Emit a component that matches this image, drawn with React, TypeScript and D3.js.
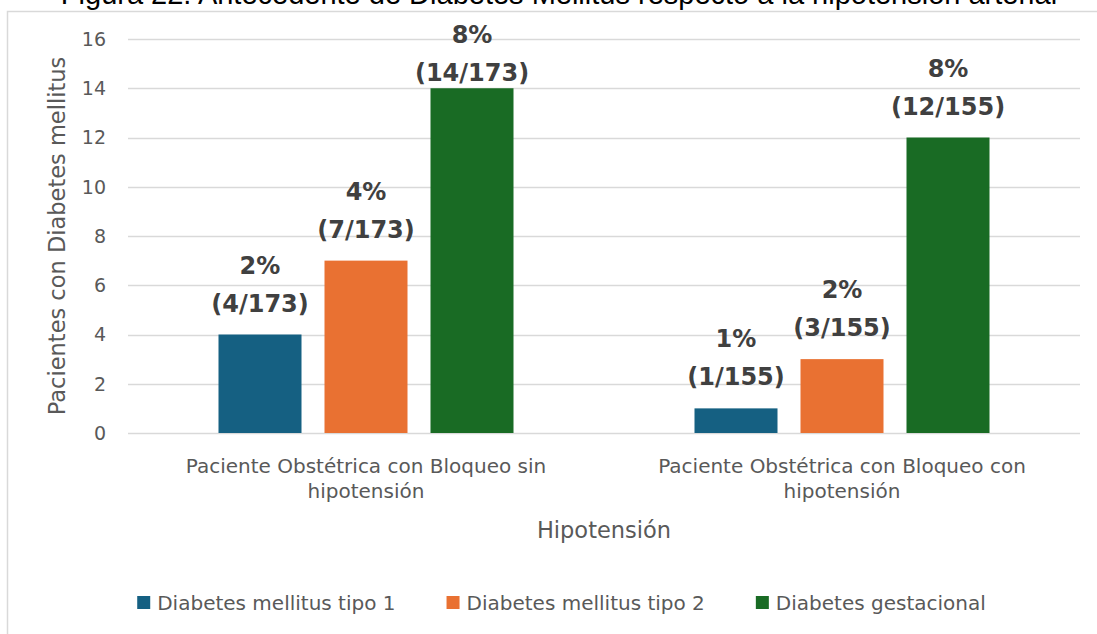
import React, { useRef, useEffect } from 'react';
import * as d3 from 'd3';

// chart values
const categoryLines = [
  ['Paciente Obstétrica con Bloqueo sin', 'hipotensión'],
  ['Paciente Obstétrica con Bloqueo con', 'hipotensión'],
];
const seriesNames = ['Diabetes mellitus tipo 1', 'Diabetes mellitus tipo 2', 'Diabetes gestacional'];
const seriesColors = ['#156082', '#E97132', '#196B24'];
const dmTipo1 = [4, 1];
const dmTipo2 = [7, 3];
const dmGestacional = [14, 12];
const totals = [173, 155];
const yTicks = [0, 2, 4, 6, 8, 10, 12, 14, 16];

const title = 'Figura 22. Antecedente de Diabetes Mellitus respecto a la hipotensión arterial';
const xTitle = 'Hipotensión';
const yTitle = 'Pacientes con Diabetes mellitus';

const W = 1097, H = 634;
const axisFont = '"DejaVu Sans", sans-serif';

const App = () => {
  const ref = useRef<SVGSVGElement>(null);

  useEffect(() => {
    const svg = d3.select(ref.current);
    svg.selectAll('*').remove();

    const margin = { top: 39, right: 17, bottom: 201, left: 128 };
    const plotW = W - margin.left - margin.right;
    const plotH = H - margin.top - margin.bottom;

    const values = [dmTipo1, dmTipo2, dmGestacional];

    svg.append('rect').attr('width', W).attr('height', H).attr('fill', '#fff');

    // outer frame of the chart area
    svg.append('rect')
      .attr('x', 7.5).attr('y', 11.5)
      .attr('width', W + 20).attr('height', H + 20)
      .attr('fill', 'none').attr('stroke', '#d9d9d9').attr('stroke-width', 1.5);

    svg.append('text')
      .attr('x', 559).attr('y', 4)
      .attr('text-anchor', 'middle')
      .style('font-family', '"Liberation Sans", Arial, sans-serif')
      .style('font-size', '29px')
      .attr('fill', '#000')
      .text(title);

    const g = svg.append('g').attr('transform', `translate(${margin.left},${margin.top})`);

    const y = d3.scaleLinear().domain([0, 16]).range([plotH, 0]);
    const x0 = d3.scaleBand<number>().domain(d3.range(categoryLines.length)).range([0, plotW]);
    const x1 = d3.scaleBand<number>().domain(d3.range(seriesNames.length))
      .range([0, 295]).paddingInner(0.217);
    const groupOffset = (x0.bandwidth() - 295) / 2;

    // gridlines
    g.selectAll('line.grid')
      .data(yTicks)
      .enter().append('line')
      .attr('class', 'grid')
      .attr('x1', 0).attr('x2', plotW)
      .attr('y1', d => Math.round(y(d)) + 0.5).attr('y2', d => Math.round(y(d)) + 0.5)
      .attr('stroke', '#d9d9d9').attr('stroke-width', 1.5);

    // y tick labels
    g.selectAll('text.ytick')
      .data(yTicks)
      .enter().append('text')
      .attr('class', 'ytick')
      .attr('x', -22).attr('y', d => y(d))
      .attr('dy', '0.36em')
      .attr('text-anchor', 'end')
      .style('font-family', axisFont).style('font-size', '19px')
      .attr('fill', '#595959')
      .text(d => d);

    // bars
    const bars: { cat: number; s: number; v: number }[] = [];
    values.forEach((arr, s) => arr.forEach((v, cat) => bars.push({ cat, s, v })));

    const barX = (d: { cat: number; s: number }) => (x0(d.cat) as number) + groupOffset + (x1(d.s) as number);

    g.selectAll('rect.bar')
      .data(bars)
      .enter().append('rect')
      .attr('class', 'bar')
      .attr('x', d => barX(d))
      .attr('y', d => y(d.v))
      .attr('width', x1.bandwidth())
      .attr('height', d => plotH - y(d.v))
      .attr('fill', d => seriesColors[d.s]);

    // data labels
    const labels = g.selectAll('g.label')
      .data(bars)
      .enter().append('g')
      .attr('class', 'label')
      .attr('transform', d => {
        const base = Math.max(y(d.v) - 61, 4);
        return `translate(${barX(d) + x1.bandwidth() / 2},${base})`;
      });
    labels.append('text')
      .attr('text-anchor', 'middle')
      .style('font-family', axisFont).style('font-size', '24px').style('font-weight', 'bold')
      .attr('fill', '#404040')
      .text(d => Math.round((d.v / totals[d.cat]) * 100) + '%');
    labels.append('text')
      .attr('y', 38)
      .attr('text-anchor', 'middle')
      .style('font-family', axisFont).style('font-size', '24px').style('font-weight', 'bold')
      .attr('fill', '#404040')
      .text(d => `(${d.v}/${totals[d.cat]})`);

    // category labels
    const cats = g.selectAll('text.cat')
      .data(categoryLines)
      .enter().append('text')
      .attr('class', 'cat')
      .attr('text-anchor', 'middle')
      .style('font-family', axisFont).style('font-size', '20px')
      .attr('fill', '#595959');
    cats.selectAll('tspan')
      .data((d, i) => d.map(line => ({ line, i })))
      .enter().append('tspan')
      .attr('x', d => (x0(d.i) as number) + x0.bandwidth() / 2)
      .attr('y', (d, j) => plotH + 40 + j * 25)
      .text(d => d.line);

    // axis titles
    g.append('text')
      .attr('x', plotW / 2).attr('y', plotH + 105)
      .attr('text-anchor', 'middle')
      .style('font-family', axisFont).style('font-size', '22.5px')
      .attr('fill', '#595959')
      .text(xTitle);

    svg.append('text')
      .attr('transform', `translate(65,236) rotate(-90)`)
      .attr('text-anchor', 'middle')
      .style('font-family', axisFont).style('font-size', '22.5px')
      .attr('fill', '#595959')
      .text(yTitle);

    // legend
    const legend = svg.append('g').attr('transform', 'translate(0,610)');
    const items = legend.selectAll('g.item')
      .data(seriesNames)
      .enter().append('g')
      .attr('class', 'item');
    items.append('rect')
      .attr('x', 0).attr('y', -14)
      .attr('width', 13).attr('height', 13)
      .attr('fill', (d, i) => seriesColors[i]);
    items.append('text')
      .attr('x', 20).attr('y', 0)
      .style('font-family', axisFont).style('font-size', '20px')
      .attr('fill', '#595959')
      .text(d => d);

    const widths: number[] = [];
    items.select('text').each(function () {
      widths.push((this as SVGTextElement).getComputedTextLength());
    });
    const itemW = widths.map(w => 20 + w);
    const gap = 51;
    const total = d3.sum(itemW) + gap * (itemW.length - 1);
    let cx = 561.5 - total / 2;
    items.attr('transform', (d, i) => {
      const t = `translate(${cx},0)`;
      cx += itemW[i] + gap;
      return t;
    });
  }, []);

  return (
    <svg ref={ref} width={W} height={H}
      style={{ position: 'absolute', left: 0, top: 0, display: 'block' }} />
  );
};

export default App;
